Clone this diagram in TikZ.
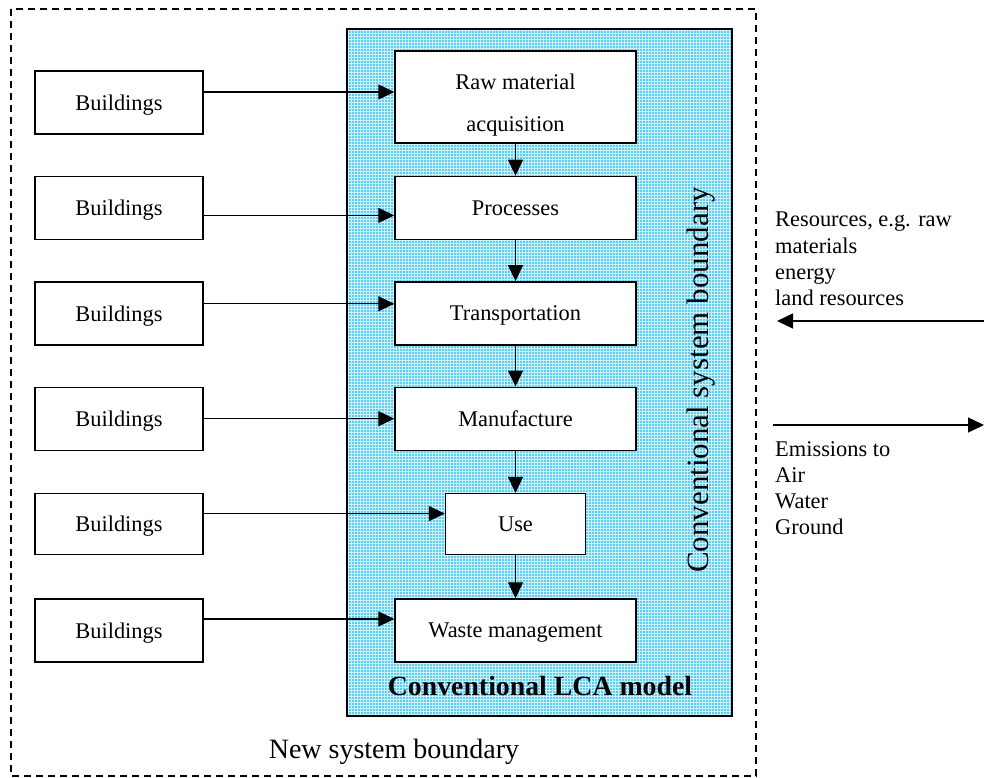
\documentclass[tikz,border=0pt]{standalone}
\usepackage{fontspec}
\setmainfont{Liberation Serif}
\usepackage{tikz}
\usetikzlibrary{positioning,arrows.meta}
\definecolor{lcabase}{RGB}{92,206,244}
\definecolor{lcaline}{RGB}{205,242,253}

\tikzset{
	buildbox/.style={draw,line width=1.4pt,minimum width=168pt,minimum height=63pt,inner sep=0pt,text depth=0pt,font=\fontsize{22.4}{26}\selectfont},
	stagebox/.style={draw,fill=white,line width=1.4pt,minimum width=241pt,minimum height=63pt,inner sep=0pt,text depth=0pt,font=\fontsize{22.4}{26}\selectfont},
	sidetext/.style={anchor=north west,inner sep=0pt,align=left,font=\fontsize{22.4}{26.3}\selectfont},
	flow/.style={line width=1.3pt,-{Triangle[length=16pt,width=15pt]}}
}

\begin{document}
\begin{tikzpicture}[x=1pt,y=-1pt]
		\useasboundingbox (0,0) rectangle (984,778);
		\begin{scope}
			\draw[line width=1.3pt,dash pattern=on 7pt off 5pt] (11,9) rectangle (756,776);
			\fill[lcabase] (347,29) rectangle (732,716);
			\begin{scope}
				\clip (347,29) rectangle (732,716);
				\draw[lcaline,line width=0.8pt] (347,29) grid[step=3pt] (732,716);
			\end{scope}
			\draw[line width=1.4pt] (347,29) rectangle (732,716);

			\node(s1) [stagebox,minimum height=92pt,label={[align=center,font=\fontsize{22.4}{42}\selectfont,yshift=-8pt]center:Raw material\\acquisition}] at (515.5,97) {};
			\node(s2) [stagebox,below=32pt of s1] {Processes};
			\node(s3) [stagebox,below=41pt of s2] {Transportation};
			\node(s4) [stagebox,below=41pt of s3] {Manufacture};
			\node(s5) [stagebox,below=42pt of s4,minimum width=140pt,minimum height=61pt] {Use};
			\node(s6) [stagebox,below=43pt of s5] {Waste management};

			\node(b1) [buildbox] at (119,102.5) {Buildings};
			\node(b2) [buildbox,below=41pt of b1] {Buildings};
			\node(b3) [buildbox,below=41pt of b2] {Buildings};
			\node(b4) [buildbox,below=41pt of b3] {Buildings};
			\node(b5) [buildbox,below=42pt of b4,minimum height=61pt] {Buildings};
			\node(b6) [buildbox,below=43pt of b5] {Buildings};

			\draw[flow] ([yshift=10.5pt]b1.east) -- ([yshift=10.5pt]b1.east -| s1.west);
			\draw[flow] ([yshift=-7.5pt]b2.east) -- ([yshift=-7.5pt]b2.east -| s2.west);
			\draw[flow] ([yshift=9.5pt]b3.east) -- ([yshift=9.5pt]b3.east -| s3.west);
			\draw[flow] (b4.east) -- (b4.east -| s4.west);
			\draw[flow] ([yshift=10.5pt]b5.east) -- ([yshift=10.5pt]b5.east -| s5.west);
			\draw[flow] ([yshift=11.5pt]b6.east) -- ([yshift=11.5pt]b6.east -| s6.west);

			\draw[flow] (s1) -- (s2);
			\draw[flow] (s2) -- (s3);
			\draw[flow] (s3) -- (s4);
			\draw[flow] (s4) -- (s5);
			\draw[flow] (s5) -- (s6);

			\node(sysb) [rotate=90,inner sep=0pt,font=\fontsize{31}{36}\selectfont] at (701,380) {Conventional system boundary};
			\node(lca) [inner sep=0pt,font=\fontsize{27.8}{32}\selectfont\bfseries] at (540,686) {Conventional LCA model};
			\node(newb) [inner sep=0pt,font=\fontsize{28}{32}\selectfont] at (394,751.5) {New system boundary};

			\node(res) [sidetext] at (775,212) {Resources, e.g. raw\\materials\\energy\\land resources};
			\node(emi) [sidetext] at (775,441) {Emissions to\\Air\\Water\\Ground};
			\coordinate (resR) at (984,321);
			\coordinate (resL) at (777,321);
			\coordinate (emiL) at (773,425);
			\coordinate (emiR) at (984,425);
			\draw[flow] (resR) -- (resL);
			\draw[flow] (emiL) -- (emiR);
		\end{scope}
	\end{tikzpicture}
\end{document}
